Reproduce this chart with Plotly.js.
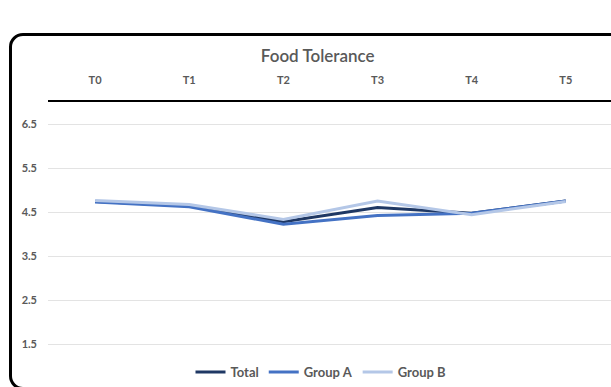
<!DOCTYPE html>
<html>
<head>
<meta charset="utf-8">
<script src="https://cdn.plot.ly/plotly-3.0.1.min.js"></script>
<style>
  html, body { margin: 0; padding: 0; background: #ffffff; overflow: hidden; }
  #wrap { position: relative; width: 611px; height: 387px; overflow: hidden; }
  #frame {
    position: absolute; left: 9px; top: 33px; width: 720px; height: 357px;
    border: 3px solid #000; border-radius: 14px; box-sizing: border-box;
  }
  #chart { position: absolute; left: 0; top: 0; width: 611px; height: 387px; }
</style>
</head>
<body>
<div id="wrap">
  <div id="frame"></div>
  <div id="chart"></div>
</div>
<script>
// Time points and tolerance scores
const timePoints = ["T0", "T1", "T2", "T3", "T4", "T5"];
const totalScores = [4.74, 4.64, 4.28, 4.60, 4.47, 4.75];
const groupAScores = [4.73, 4.62, 4.22, 4.42, 4.47, 4.75];
const groupBScores = [4.76, 4.67, 4.33, 4.75, 4.44, 4.74];
const yTicks = [1.5, 2.5, 3.5, 4.5, 5.5, 6.5];

const fontFamily = "Lato, 'Open Sans', sans-serif";
const labelFont = { family: fontFamily, size: 11, color: "#595959", weight: 700 };

function series(name, values, color) {
  return {
    type: "scatter", mode: "lines", name: name,
    x: timePoints, y: values,
    line: { color: color, width: 3 },
    hoverinfo: "skip"
  };
}

const data = [
  series("Total", totalScores, "#1F3864"),
  series("Group A", groupAScores, "#4472C4"),
  series("Group B", groupBScores, "#B4C7E7")
];

const layout = {
  width: 611, height: 387,
  paper_bgcolor: "rgba(0,0,0,0)",
  plot_bgcolor: "rgba(0,0,0,0)",
  margin: { l: 48, r: 0, t: 102, b: 21, pad: 0 },
  title: {
    text: "Food Tolerance",
    font: { family: fontFamily, size: 17, color: "#595959", weight: 600 },
    xref: "container", yref: "container",
    x: 0.52, xanchor: "center",
    y: 1 - 56 / 387, yanchor: "middle"
  },
  xaxis: {
    type: "category",
    side: "top",
    range: [-0.5, 5.48],
    showline: true, linecolor: "#000000", linewidth: 2,
    showgrid: false, zeroline: false,
    ticks: "",
    ticklabelstandoff: 12,
    tickfont: labelFont
  },
  yaxis: {
    range: [1, 7],
    tickvals: yTicks,
    ticktext: yTicks.map(v => v.toFixed(1)),
    showgrid: true, gridcolor: "#e3e3e3", gridwidth: 1,
    zeroline: false, showline: false,
    ticks: "",
    ticklabelstandoff: 10,
    tickfont: labelFont
  },
  showlegend: true,
  legend: {
    orientation: "h",
    x: (321 - 48) / 563, xanchor: "center",
    y: -6 / 264, yanchor: "middle",
    font: { family: fontFamily, size: 13, color: "#595959", weight: 700 },
    itemwidth: 30,
    bgcolor: "rgba(0,0,0,0)"
  }
};

Plotly.newPlot("chart", data, layout, { displayModeBar: false, staticPlot: true });
</script>
</body>
</html>
